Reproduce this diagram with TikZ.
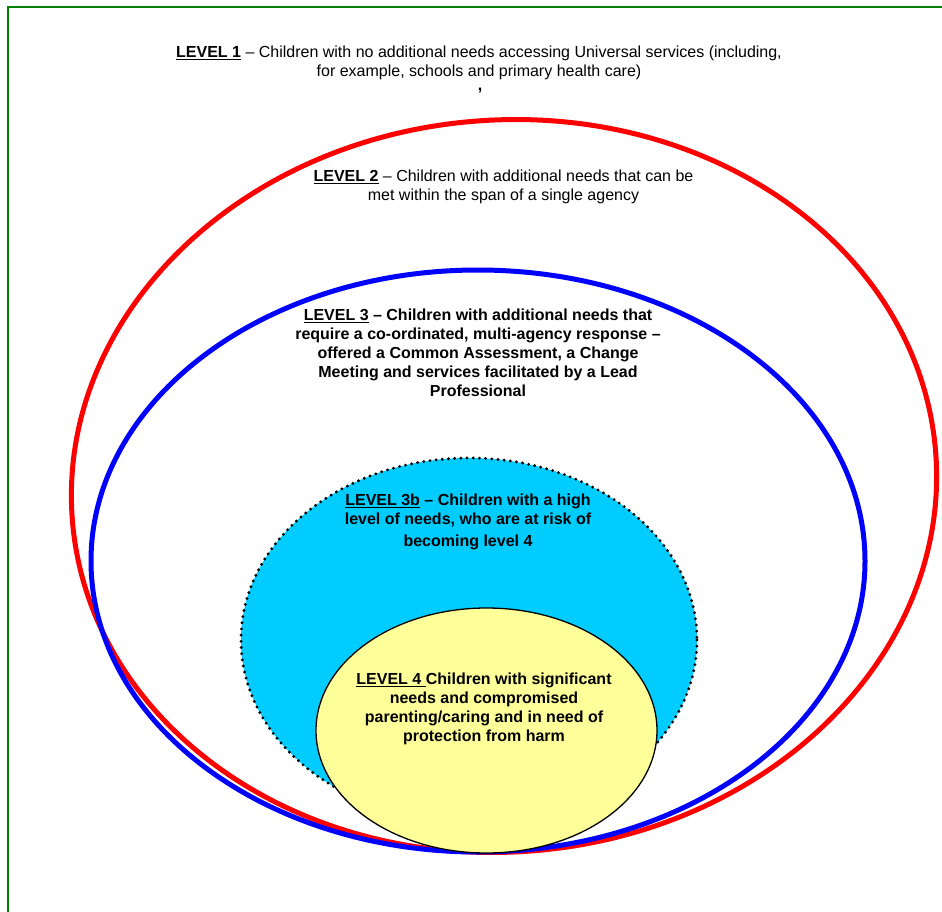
\documentclass[tikz,border=0pt]{standalone}
\usepackage{fontspec}
\setmainfont{Liberation Sans}
\definecolor{levelcyan}{RGB}{0,204,255}
\definecolor{levelyellow}{RGB}{255,255,153}
\definecolor{framegreen}{RGB}{0,128,0}

\begin{document}
\begin{tikzpicture}[x=1pt, y=-1pt,
    lvltext/.style = {align=center, font=\fontsize{16}{19}\selectfont},
    lvlbold/.style = {align=center, font=\fontsize{16}{19}\selectfont\bfseries}]
        \useasboundingbox (0,0) rectangle (942,912);
        \draw[framegreen, line width=2pt] (7.5,912) -- (7.5,7.5) -- (942,7.5);
        % the nested levels
        \draw[red, line width=5pt, rotate around={4.5:(504,486)}] (504,486) ellipse [x radius=433, y radius=366];
        \draw[blue, line width=5pt] (478,561) ellipse [x radius=387, y radius=291];
        \fill[levelcyan] (469,640) ellipse [x radius=228, y radius=182];
        \draw[line width=3.2pt, line cap=round, dash pattern=on 0pt off 6.2pt] (469,640) ellipse [x radius=228, y radius=182];
        \filldraw[fill=levelyellow, draw=black, line width=1.3pt] (486.5,730.5) ellipse [x radius=170.5, y radius=122.5];
        % labels
        \node[lvltext] (lvl1) at (479,63) {\textbf{\underline{LEVEL 1}} -- Children with no additional needs accessing Universal services (including,\\ for example, schools and primary health care)};
        \node[lvlbold] (comma) at (480,91) {,};
        \node[lvltext] (lvl2) at (503.5,187) {\textbf{\underline{LEVEL 2}} -- Children with additional needs that can be\\ met within the span of a single agency};
        \node[lvlbold] (lvl3) at (478,353) {\underline{LEVEL 3} -- Children with additional needs that\\ require a co-ordinated, multi-agency response --\\ offered a Common Assessment, a Change\\ Meeting and services facilitated by a Lead\\ Professional};
        \node[lvlbold] (lvl3b) at (468,522) {\underline{LEVEL 3b} -- Children with a high\\ level of needs, who are at risk of\\[3pt] becoming level 4};
        \node[lvlbold] (lvl4) at (484,709) {\underline{LEVEL 4 }Children with significant\\ needs and compromised\\ parenting/caring and in need of\\ protection from harm};
      \end{tikzpicture}
\end{document}
